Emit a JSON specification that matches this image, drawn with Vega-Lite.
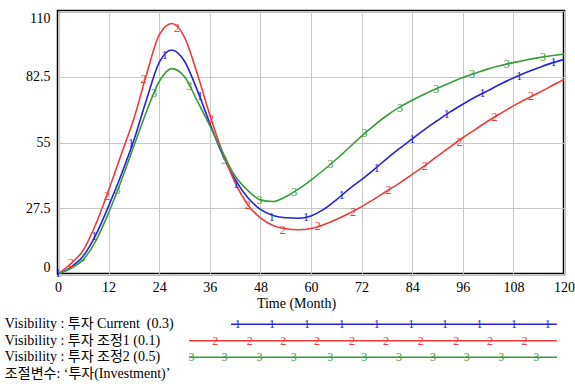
{
  "$schema": "https://vega.github.io/schema/vega-lite/v6.json",
  "autosize": {"type": "pad"},
  "padding": {"left": 4, "top": 9, "right": 0, "bottom": 0},
  "spacing": 42,
  "bounds": "flush",
  "background": "white",
  "config": {
    "font": "'Liberation Serif', 'Noto Sans CJK KR', serif",
    "view": {"stroke": "black", "strokeWidth": 2.5},
    "axis": {
      "labelFont": "'Liberation Serif', 'Noto Sans CJK KR', serif",
      "labelFontSize": 14,
      "labelColor": "black",
      "titleFont": "'Liberation Serif', 'Noto Sans CJK KR', serif",
      "titleFontSize": 14,
      "titleFontWeight": "normal",
      "titleColor": "black",
      "grid": true,
      "gridColor": "#c8c8c8",
      "gridWidth": 1,
      "domain": false,
      "ticks": false
    }
  },
  "datasets": {
    "series": [
      {"run": "Current", "t": 0, "v": 0}, {"run": "Current", "t": 3, "v": 2.8}, {"run": "Current", "t": 6, "v": 7.5}, {"run": "Current", "t": 9, "v": 16.5}, {"run": "Current", "t": 12, "v": 28.4}, {"run": "Current", "t": 15, "v": 41.5}, {"run": "Current", "t": 18, "v": 56}, {"run": "Current", "t": 21, "v": 73}, {"run": "Current", "t": 24, "v": 88.5}, {"run": "Current", "t": 27, "v": 93.7}, {"run": "Current", "t": 30, "v": 89}, {"run": "Current", "t": 33, "v": 77}, {"run": "Current", "t": 36, "v": 63}, {"run": "Current", "t": 39, "v": 50}, {"run": "Current", "t": 42, "v": 39.6}, {"run": "Current", "t": 45, "v": 32}, {"run": "Current", "t": 48, "v": 27}, {"run": "Current", "t": 51, "v": 24.5}, {"run": "Current", "t": 54, "v": 23.5}, {"run": "Current", "t": 57, "v": 23.3}, {"run": "Current", "t": 60, "v": 24.3}, {"run": "Current", "t": 63, "v": 27}, {"run": "Current", "t": 66, "v": 31}, {"run": "Current", "t": 69, "v": 35.5}, {"run": "Current", "t": 72, "v": 39.5}, {"run": "Current", "t": 75, "v": 43.8}, {"run": "Current", "t": 78, "v": 48.3}, {"run": "Current", "t": 81, "v": 52.5}, {"run": "Current", "t": 84, "v": 56.5}, {"run": "Current", "t": 87, "v": 60.5}, {"run": "Current", "t": 90, "v": 64.2}, {"run": "Current", "t": 93, "v": 67.8}, {"run": "Current", "t": 96, "v": 71}, {"run": "Current", "t": 99, "v": 74}, {"run": "Current", "t": 102, "v": 76.7}, {"run": "Current", "t": 105, "v": 79.5}, {"run": "Current", "t": 108, "v": 82}, {"run": "Current", "t": 111, "v": 84.3}, {"run": "Current", "t": 114, "v": 86.3}, {"run": "Current", "t": 117, "v": 88.2}, {"run": "Current", "t": 120, "v": 89.8},
      {"run": "조정1", "t": 0, "v": 0}, {"run": "조정1", "t": 3, "v": 4.3}, {"run": "조정1", "t": 6, "v": 10}, {"run": "조정1", "t": 9, "v": 21}, {"run": "조정1", "t": 12, "v": 35}, {"run": "조정1", "t": 15, "v": 50}, {"run": "조정1", "t": 18, "v": 65}, {"run": "조정1", "t": 21, "v": 83.5}, {"run": "조정1", "t": 24, "v": 100}, {"run": "조정1", "t": 27, "v": 104.8}, {"run": "조정1", "t": 30, "v": 99}, {"run": "조정1", "t": 33, "v": 84}, {"run": "조정1", "t": 36, "v": 66.5}, {"run": "조정1", "t": 39, "v": 51}, {"run": "조정1", "t": 42, "v": 38.2}, {"run": "조정1", "t": 45, "v": 29}, {"run": "조정1", "t": 48, "v": 23.5}, {"run": "조정1", "t": 51, "v": 20.3}, {"run": "조정1", "t": 54, "v": 18.9}, {"run": "조정1", "t": 57, "v": 18.5}, {"run": "조정1", "t": 60, "v": 19}, {"run": "조정1", "t": 63, "v": 20.6}, {"run": "조정1", "t": 66, "v": 22.8}, {"run": "조정1", "t": 69, "v": 25.3}, {"run": "조정1", "t": 72, "v": 28.2}, {"run": "조정1", "t": 75, "v": 31.3}, {"run": "조정1", "t": 78, "v": 34.7}, {"run": "조정1", "t": 81, "v": 38}, {"run": "조정1", "t": 84, "v": 41.7}, {"run": "조정1", "t": 87, "v": 45.3}, {"run": "조정1", "t": 90, "v": 49.3}, {"run": "조정1", "t": 93, "v": 53.2}, {"run": "조정1", "t": 96, "v": 57}, {"run": "조정1", "t": 99, "v": 60.5}, {"run": "조정1", "t": 102, "v": 64}, {"run": "조정1", "t": 105, "v": 67.2}, {"run": "조정1", "t": 108, "v": 70.3}, {"run": "조정1", "t": 111, "v": 73.2}, {"run": "조정1", "t": 114, "v": 75.8}, {"run": "조정1", "t": 117, "v": 78.6}, {"run": "조정1", "t": 120, "v": 81.4},
      {"run": "조정2", "t": 0, "v": 0}, {"run": "조정2", "t": 3, "v": 2.3}, {"run": "조정2", "t": 6, "v": 6}, {"run": "조정2", "t": 9, "v": 14}, {"run": "조정2", "t": 12, "v": 25.6}, {"run": "조정2", "t": 15, "v": 39}, {"run": "조정2", "t": 18, "v": 53.5}, {"run": "조정2", "t": 21, "v": 68}, {"run": "조정2", "t": 24, "v": 80.5}, {"run": "조정2", "t": 27, "v": 85.9}, {"run": "조정2", "t": 30, "v": 82.5}, {"run": "조정2", "t": 33, "v": 72.5}, {"run": "조정2", "t": 36, "v": 62}, {"run": "조정2", "t": 39, "v": 51}, {"run": "조정2", "t": 42, "v": 41}, {"run": "조정2", "t": 45, "v": 35}, {"run": "조정2", "t": 48, "v": 31}, {"run": "조정2", "t": 51, "v": 30.3}, {"run": "조정2", "t": 54, "v": 32.3}, {"run": "조정2", "t": 57, "v": 35.5}, {"run": "조정2", "t": 60, "v": 39.3}, {"run": "조정2", "t": 63, "v": 43.5}, {"run": "조정2", "t": 66, "v": 48}, {"run": "조정2", "t": 69, "v": 52.8}, {"run": "조정2", "t": 72, "v": 57.7}, {"run": "조정2", "t": 75, "v": 62.2}, {"run": "조정2", "t": 78, "v": 66.3}, {"run": "조정2", "t": 81, "v": 69.8}, {"run": "조정2", "t": 84, "v": 72.7}, {"run": "조정2", "t": 87, "v": 75.3}, {"run": "조정2", "t": 90, "v": 77.7}, {"run": "조정2", "t": 93, "v": 80}, {"run": "조정2", "t": 96, "v": 82.2}, {"run": "조정2", "t": 99, "v": 84}, {"run": "조정2", "t": 102, "v": 85.8}, {"run": "조정2", "t": 105, "v": 87.2}, {"run": "조정2", "t": 108, "v": 88.4}, {"run": "조정2", "t": 111, "v": 89.5}, {"run": "조정2", "t": 114, "v": 90.5}, {"run": "조정2", "t": 117, "v": 91.3}, {"run": "조정2", "t": 120, "v": 92}
    ],
    "markers": [
      {"run": "Current", "digit": "1", "t": 0, "v": 0.5}, {"run": "Current", "digit": "1", "t": 8.6, "v": 15.9}, {"run": "Current", "digit": "1", "t": 17.3, "v": 55}, {"run": "Current", "digit": "1", "t": 25.3, "v": 91.8}, {"run": "Current", "digit": "1", "t": 33.7, "v": 74.4}, {"run": "Current", "digit": "1", "t": 42.2, "v": 37.5}, {"run": "Current", "digit": "1", "t": 50.7, "v": 24}, {"run": "Current", "digit": "1", "t": 58.8, "v": 23.8}, {"run": "Current", "digit": "1", "t": 67.3, "v": 33}, {"run": "Current", "digit": "1", "t": 75.6, "v": 44.2}, {"run": "Current", "digit": "1", "t": 84, "v": 56.3}, {"run": "Current", "digit": "1", "t": 92.2, "v": 66.8}, {"run": "Current", "digit": "1", "t": 100.7, "v": 75.6}, {"run": "Current", "digit": "1", "t": 109.4, "v": 82.8}, {"run": "Current", "digit": "1", "t": 117.5, "v": 88.5},
      {"run": "조정1", "digit": "2", "t": 3.1, "v": 4.7}, {"run": "조정1", "digit": "2", "t": 11.6, "v": 32.6}, {"run": "조정1", "digit": "2", "t": 20.3, "v": 81.5}, {"run": "조정1", "digit": "2", "t": 28.2, "v": 103}, {"run": "조정1", "digit": "2", "t": 36.3, "v": 64.7}, {"run": "조정1", "digit": "2", "t": 45, "v": 28.7}, {"run": "조정1", "digit": "2", "t": 53.3, "v": 18.4}, {"run": "조정1", "digit": "2", "t": 61.6, "v": 20}, {"run": "조정1", "digit": "2", "t": 70, "v": 26}, {"run": "조정1", "digit": "2", "t": 78.4, "v": 35.2}, {"run": "조정1", "digit": "2", "t": 87, "v": 45.2}, {"run": "조정1", "digit": "2", "t": 95.2, "v": 55.2}, {"run": "조정1", "digit": "2", "t": 103.5, "v": 65.6}, {"run": "조정1", "digit": "2", "t": 112.2, "v": 74.4},
      {"run": "조정2", "digit": "3", "t": 5.7, "v": 6.5}, {"run": "조정2", "digit": "3", "t": 14.1, "v": 35}, {"run": "조정2", "digit": "3", "t": 22.8, "v": 75.8}, {"run": "조정2", "digit": "3", "t": 31.1, "v": 78.6}, {"run": "조정2", "digit": "3", "t": 39.4, "v": 47.5}, {"run": "조정2", "digit": "3", "t": 47.7, "v": 30.8}, {"run": "조정2", "digit": "3", "t": 56, "v": 34.5}, {"run": "조정2", "digit": "3", "t": 64.6, "v": 46}, {"run": "조정2", "digit": "3", "t": 72.7, "v": 58.8}, {"run": "조정2", "digit": "3", "t": 81.1, "v": 69.6}, {"run": "조정2", "digit": "3", "t": 89.7, "v": 77.5}, {"run": "조정2", "digit": "3", "t": 98.2, "v": 83.5}, {"run": "조정2", "digit": "3", "t": 106.4, "v": 87.8}, {"run": "조정2", "digit": "3", "t": 115, "v": 90.8}
    ],
    "legendText": [
      {"row": 1, "label": "Visibility : 투자 Current \u00a0(0.3)"},
      {"row": 2, "label": "Visibility : 투자 조정1 (0.1)"},
      {"row": 3, "label": "Visibility : 투자 조정2 (0.5)"},
      {"row": 4, "label": "조절변수: ‘투자(Investment)’"}
    ],
    "legendLines": [
      {"row": 1, "run": "Current", "from": 0.342, "to": 0.986},
      {"row": 2, "run": "조정1", "from": 0.259, "to": 0.986},
      {"row": 3, "run": "조정2", "from": 0.259, "to": 0.986}
    ],
    "legendMarks": [
      {"row": 1, "run": "Current", "digit": "1", "at": 0.355}, {"row": 1, "run": "Current", "digit": "1", "at": 0.423}, {"row": 1, "run": "Current", "digit": "1", "at": 0.492}, {"row": 1, "run": "Current", "digit": "1", "at": 0.561}, {"row": 1, "run": "Current", "digit": "1", "at": 0.630}, {"row": 1, "run": "Current", "digit": "1", "at": 0.698}, {"row": 1, "run": "Current", "digit": "1", "at": 0.765}, {"row": 1, "run": "Current", "digit": "1", "at": 0.833}, {"row": 1, "run": "Current", "digit": "1", "at": 0.901}, {"row": 1, "run": "Current", "digit": "1", "at": 0.968},
      {"row": 2, "run": "조정1", "digit": "2", "at": 0.311}, {"row": 2, "run": "조정1", "digit": "2", "at": 0.379}, {"row": 2, "run": "조정1", "digit": "2", "at": 0.445}, {"row": 2, "run": "조정1", "digit": "2", "at": 0.512}, {"row": 2, "run": "조정1", "digit": "2", "at": 0.581}, {"row": 2, "run": "조정1", "digit": "2", "at": 0.648}, {"row": 2, "run": "조정1", "digit": "2", "at": 0.717}, {"row": 2, "run": "조정1", "digit": "2", "at": 0.787}, {"row": 2, "run": "조정1", "digit": "2", "at": 0.854}, {"row": 2, "run": "조정1", "digit": "2", "at": 0.922},
      {"row": 3, "run": "조정2", "digit": "3", "at": 0.264}, {"row": 3, "run": "조정2", "digit": "3", "at": 0.329}, {"row": 3, "run": "조정2", "digit": "3", "at": 0.398}, {"row": 3, "run": "조정2", "digit": "3", "at": 0.466}, {"row": 3, "run": "조정2", "digit": "3", "at": 0.538}, {"row": 3, "run": "조정2", "digit": "3", "at": 0.605}, {"row": 3, "run": "조정2", "digit": "3", "at": 0.674}, {"row": 3, "run": "조정2", "digit": "3", "at": 0.741}, {"row": 3, "run": "조정2", "digit": "3", "at": 0.808}, {"row": 3, "run": "조정2", "digit": "3", "at": 0.876}, {"row": 3, "run": "조정2", "digit": "3", "at": 0.945}
    ]
  },
  "vconcat": [
    {
      "width": 506,
      "height": 263,
      "layer": [
        {
          "data": {"name": "series"},
          "mark": {"type": "line", "interpolate": "monotone", "strokeWidth": 1.6, "clip": true},
          "encoding": {
            "x": {
              "field": "t", "type": "quantitative",
              "scale": {"domain": [0, 120], "nice": false, "zero": false},
              "axis": {
                "values": [0, 6, 12, 18, 24, 30, 36, 42, 48, 54, 60, 66, 72, 78, 84, 90, 96, 102, 108, 114, 120],
                "labelExpr": "datum.value % 12 == 0 ? datum.label : ''",
                "labelFlush": false,
                "labelPadding": 6,
                "labelDx": -3,
                "title": "Time (Month)",
                "titlePadding": 2,
                "titleX": 238,
                "titleAnchor": "middle"
              }
            },
            "y": {
              "field": "v", "type": "quantitative",
              "scale": {"domain": [0, 110], "nice": false},
              "axis": {
                "values": [0, 27.5, 55, 82.5, 110],
                "labelExpr": "toString(datum.value)",
                "labelFlush": true,
                "labelPadding": 8,
                "title": null
              }
            },
            "color": {
              "field": "run", "type": "nominal",
              "scale": {"domain": ["Current", "조정1", "조정2"], "range": ["#2323d8", "#ee3a3a", "#3a9a3a"]},
              "legend": null
            }
          }
        },
        {
          "data": {"name": "markers"},
          "mark": {"type": "text", "fontSize": 12, "font": "'Liberation Serif', serif", "baseline": "middle", "align": "center"},
          "encoding": {
            "x": {"field": "t", "type": "quantitative"},
            "y": {"field": "v", "type": "quantitative"},
            "text": {"field": "digit"},
            "color": {"field": "run", "type": "nominal", "legend": null}
          }
        }
      ]
    },
    {
      "width": 506,
      "height": 66,
      "view": {"stroke": null},
      "layer": [
        {
          "data": {"name": "legendText"},
          "mark": {"type": "text", "fontSize": 14, "align": "left", "baseline": "middle", "color": "black", "font": "'Liberation Serif', 'Noto Sans CJK KR', serif"},
          "encoding": {
            "x": {"datum": -0.105, "type": "quantitative", "scale": {"domain": [0, 1], "nice": false, "zero": false}, "axis": null},
            "y": {"field": "row", "type": "ordinal", "scale": {"type": "point", "padding": 0.5, "domain": [1, 2, 3, 4]}, "axis": null},
            "text": {"field": "label"}
          }
        },
        {
          "data": {"name": "legendLines"},
          "mark": {"type": "rule", "strokeWidth": 1.6},
          "encoding": {
            "x": {"field": "from", "type": "quantitative"},
            "x2": {"field": "to"},
            "y": {"field": "row", "type": "ordinal"},
            "color": {
              "field": "run", "type": "nominal",
              "scale": {"domain": ["Current", "조정1", "조정2"], "range": ["#2323d8", "#ee3a3a", "#3a9a3a"]},
              "legend": null
            }
          }
        },
        {
          "data": {"name": "legendMarks"},
          "mark": {"type": "text", "fontSize": 12, "font": "'Liberation Serif', serif", "baseline": "middle", "align": "center"},
          "encoding": {
            "x": {"field": "at", "type": "quantitative"},
            "y": {"field": "row", "type": "ordinal"},
            "text": {"field": "digit"},
            "color": {"field": "run", "type": "nominal", "legend": null}
          }
        }
      ]
    }
  ]
}
